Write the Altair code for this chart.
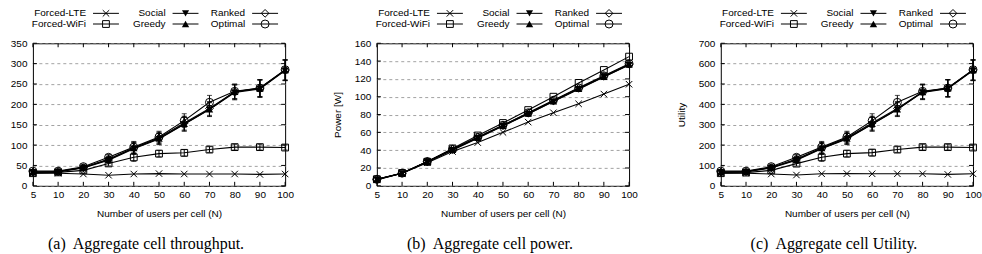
import altair as alt
import pandas as pd

# Number of users per cell (categorical x axis)
users = ["5", "10", "20", "30", "40", "50", "60", "70", "80", "90", "100"]
series = ["Forced-LTE", "Forced-WiFi", "Social", "Greedy", "Ranked", "Optimal"]
open_series = ["Forced-LTE", "Forced-WiFi", "Ranked", "Optimal"]
solid_series = ["Social", "Greedy"]

# (a) Aggregate cell throughput
thr_lte = [31, 31, 29, 26, 29, 30, 29, 29, 29, 28, 29]
thr_wifi = [31, 33, 38, 55, 70, 79, 81, 89, 95, 95, 94]
thr_social = [33, 34, 44, 63, 91, 115, 151, 187, 229, 238, 283]
thr_greedy = [33, 35, 45, 64, 93, 116, 152, 188, 231, 239, 284]
thr_ranked = [34, 35, 45, 66, 93, 118, 154, 190, 231, 240, 284]
thr_optimal = [36, 36, 47, 70, 95, 120, 160, 205, 232, 240, 285]
thr_err_wifi = [3, 3, 4, 6, 10, 8, 8, 7, 7, 7, 6]
thr_err_sched = [4, 4, 5, 7, 14, 14, 17, 17, 18, 21, 25]
thr_ticks = [0, 50, 100, 150, 200, 250, 300, 350]

# (b) Aggregate cell power [W]
pow_lte = [6.7, 14, 26, 38.5, 48.5, 60, 71.5, 82, 92, 103, 114]
pow_wifi = [7.4, 14.4, 27, 42, 56.5, 70.5, 85, 100, 115.5, 130, 145]
pow_social = [7.1, 14, 26.8, 40, 53.5, 67, 80.5, 94.5, 108.5, 122, 135.5]
pow_greedy = [7.2, 14, 27, 40.5, 54, 67.5, 81, 95, 109, 122.5, 136]
pow_ranked = [7.3, 14.1, 27.2, 41, 54.5, 68, 81.5, 95.5, 109.5, 123, 136.5]
pow_optimal = [7.3, 14.2, 27.3, 41, 54.5, 68, 82, 96, 110, 123.5, 137]
pow_ticks = [0, 20, 40, 60, 80, 100, 120, 140, 160]

# (c) Aggregate cell utility
util_lte = [62, 62, 58, 53, 59, 60, 59, 59, 59, 56, 59]
util_wifi = [62, 65, 76, 109, 140, 158, 163, 178, 190, 190, 188]
util_social = [66, 68, 88, 126, 182, 230, 302, 374, 459, 477, 566]
util_greedy = [66, 70, 90, 128, 185, 232, 304, 376, 461, 479, 568]
util_ranked = [68, 70, 90, 132, 186, 236, 308, 380, 462, 480, 568]
util_optimal = [72, 72, 94, 140, 190, 240, 320, 410, 464, 480, 570]
util_err_wifi = [6, 6, 8, 12, 20, 16, 16, 14, 14, 14, 12]
util_err_sched = [8, 8, 10, 14, 28, 28, 34, 34, 36, 42, 50]
util_ticks = [0, 100, 200, 300, 400, 500, 600, 700]

W, H = 253, 143   # plot area of each panel
FONT = "Liberation Sans"

X_PATH = "M-1,-1L1,1M-1,1L1,-1"
shape_range = [X_PATH, "square", "triangle-down", "triangle-up", "diamond", "circle"]
size_range = [42, 64, 70, 70, 95, 81]


def build_frame(vals, errs):
    rows = []
    for s in series:
        e = errs.get(s)
        for i, u in enumerate(users):
            rows.append({"series": s, "users": u, "v": vals[s][i],
                         "e": e[i] if e else 0})
    return pd.DataFrame(rows)


def shape_enc():
    return alt.Shape("series:N", scale=alt.Scale(domain=series, range=shape_range), legend=None)


def size_enc():
    return alt.Size("series:N", scale=alt.Scale(domain=series, range=size_range), legend=None)


def key_layer():
    """Gnuplot-style key above the frame: label on the left, sample on the right."""
    kdf = pd.DataFrame({"series": series, "idx": list(range(len(series)))})
    sx = alt.Scale(domain=[0, W], nice=False, zero=False)
    sy = alt.Scale(domain=[0, H], nice=False, zero=False, reverse=True)
    base = alt.Chart(kdf).transform_calculate(
        col="floor(datum.idx / 2)", row="datum.idx % 2"
    ).transform_calculate(
        tx="53.3 + 79.8 * datum.col",
        l0="60.3 + 79.8 * datum.col",
        l1="86.3 + 79.8 * datum.col",
        mx="73.3 + 79.8 * datum.col",
        ty="-30 + 10.7 * datum.row",
    )
    y = alt.Y("ty:Q", scale=sy, axis=None)
    txt = base.mark_text(align="right", baseline="middle", font=FONT, fontSize=10,
                         color="black").encode(
        x=alt.X("tx:Q", scale=sx, axis=None), y=y, text="series:N")
    seg = base.mark_rule(color="black", strokeWidth=1).encode(
        x=alt.X("l0:Q", scale=sx, axis=None), x2="l1:Q", y=y)
    op = base.transform_filter(alt.FieldOneOfPredicate(field="series", oneOf=open_series)).mark_point(
        filled=False, color="black", strokeWidth=1, opacity=1).encode(
        x=alt.X("mx:Q", scale=sx, axis=None), y=y, shape=shape_enc(), size=size_enc())
    sd = base.transform_filter(alt.FieldOneOfPredicate(field="series", oneOf=solid_series)).mark_point(
        filled=True, color="black", opacity=1).encode(
        x=alt.X("mx:Q", scale=sx, axis=None), y=y, shape=shape_enc(), size=size_enc())
    return alt.layer(txt, seg, op, sd)


def plot_layer(df, yticks, ytitle, caption):
    xaxis = alt.Axis(title="Number of users per cell (N)", labelAngle=0,
                     labelPadding=4, titlePadding=9, labelOverlap=False)
    xscale = alt.Scale(type="point", padding=0)

    def xenc():
        return alt.X("users:O", sort=users, scale=xscale, axis=xaxis)

    yscale = alt.Scale(domain=[yticks[0], yticks[-1]], nice=False, zero=False)
    yax = {"values": yticks, "labelPadding": 6, "labelOverlap": False}
    if ytitle:
        yax.update(title=ytitle, titlePadding=12)
    else:
        yax.update(title=None)
    yaxis = alt.Axis(**yax)

    def yenc(field):
        return alt.Y(field, scale=yscale, axis=yaxis)

    base = alt.Chart(df)
    lines = base.mark_line(color="black", strokeWidth=1.1).encode(
        x=xenc(), y=yenc("v:Q"), detail="series:N")
    bars = base.transform_filter("datum.e > 0").transform_calculate(
        lo="datum.v - datum.e", hi="datum.v + datum.e")
    err = bars.mark_rule(color="black", strokeWidth=1).encode(
        x=xenc(), y=yenc("lo:Q"), y2="hi:Q")
    cap_lo = bars.mark_tick(color="black", orient="horizontal", size=5, thickness=1).encode(
        x=xenc(), y=yenc("lo:Q"))
    cap_hi = bars.mark_tick(color="black", orient="horizontal", size=5, thickness=1).encode(
        x=xenc(), y=yenc("hi:Q"))
    op = base.transform_filter(alt.FieldOneOfPredicate(field="series", oneOf=open_series)).mark_point(
        filled=False, color="black", strokeWidth=1, opacity=1).encode(
        x=xenc(), y=yenc("v:Q"), shape=shape_enc(), size=size_enc())
    sd = base.transform_filter(alt.FieldOneOfPredicate(field="series", oneOf=solid_series)).mark_point(
        filled=True, color="black", opacity=1).encode(
        x=xenc(), y=yenc("v:Q"), shape=shape_enc(), size=size_enc())

    # inward tick marks on all four sides of the frame
    xt = alt.Chart(pd.DataFrame({"users": users}))
    xt_top = xt.mark_rule(color="black", strokeWidth=1).encode(
        x=xenc(), y=alt.value(0), y2=alt.value(4))
    xt_bot = xt.mark_rule(color="black", strokeWidth=1).encode(
        x=xenc(), y=alt.value(H - 4), y2=alt.value(H))
    yt = alt.Chart(pd.DataFrame({"v": yticks}))
    yt_left = yt.mark_rule(color="black", strokeWidth=1).encode(
        y=yenc("v:Q"), x=alt.value(0), x2=alt.value(4))
    yt_right = yt.mark_rule(color="black", strokeWidth=1).encode(
        y=yenc("v:Q"), x=alt.value(W - 4), x2=alt.value(W))

    cap = alt.Chart(pd.DataFrame({"cap": [caption]})).mark_text(
        font="Liberation Serif", fontSize=16, align="center", baseline="middle",
        color="black").encode(x=alt.value(W / 2 - 13), y=alt.value(H + 58), text="cap:N")

    return alt.layer(lines, err, cap_lo, cap_hi, op, sd,
                     xt_top, xt_bot, yt_left, yt_right, cap)


def panel(vals, errs, yticks, ytitle, caption):
    df = build_frame(vals, errs)
    return alt.layer(plot_layer(df, yticks, ytitle, caption), key_layer()).resolve_scale(
        x="independent", y="independent").properties(width=W, height=H)


thr = {"Forced-LTE": thr_lte, "Forced-WiFi": thr_wifi, "Social": thr_social,
       "Greedy": thr_greedy, "Ranked": thr_ranked, "Optimal": thr_optimal}
thr_err = {"Forced-WiFi": thr_err_wifi, "Social": thr_err_sched, "Greedy": thr_err_sched,
           "Ranked": thr_err_sched, "Optimal": thr_err_sched}
pwr = {"Forced-LTE": pow_lte, "Forced-WiFi": pow_wifi, "Social": pow_social,
       "Greedy": pow_greedy, "Ranked": pow_ranked, "Optimal": pow_optimal}
utl = {"Forced-LTE": util_lte, "Forced-WiFi": util_wifi, "Social": util_social,
       "Greedy": util_greedy, "Ranked": util_ranked, "Optimal": util_optimal}
utl_err = {"Forced-WiFi": util_err_wifi, "Social": util_err_sched, "Greedy": util_err_sched,
           "Ranked": util_err_sched, "Optimal": util_err_sched}

NB = "\u00a0"
chart = alt.hconcat(
    panel(thr, thr_err, thr_ticks, None, f"(a){NB} Aggregate cell throughput."),
    panel(pwr, {}, pow_ticks, "Power [W]", f"(b){NB} Aggregate cell power."),
    panel(utl, utl_err, util_ticks, "Utility", f"(c){NB} Aggregate cell Utility."),
    spacing=92, bounds="flush",
).properties(
    padding={"left": 9, "top": 6, "right": 0, "bottom": 0}
).configure(
    font=FONT
).configure_view(
    stroke="black", strokeWidth=1
).configure_axis(
    labelFont=FONT, labelFontSize=10, labelColor="black",
    titleFont=FONT, titleFontSize=10, titleFontWeight="normal", titleColor="black",
    domain=False, ticks=False,
).configure_axisX(
    grid=False
).configure_axisY(
    grid=True, gridDash=[3, 3], gridColor="#8a8a8a", gridWidth=0.8
)

chart.save("out.html", embed_options={"renderer": "svg", "actions": False})
